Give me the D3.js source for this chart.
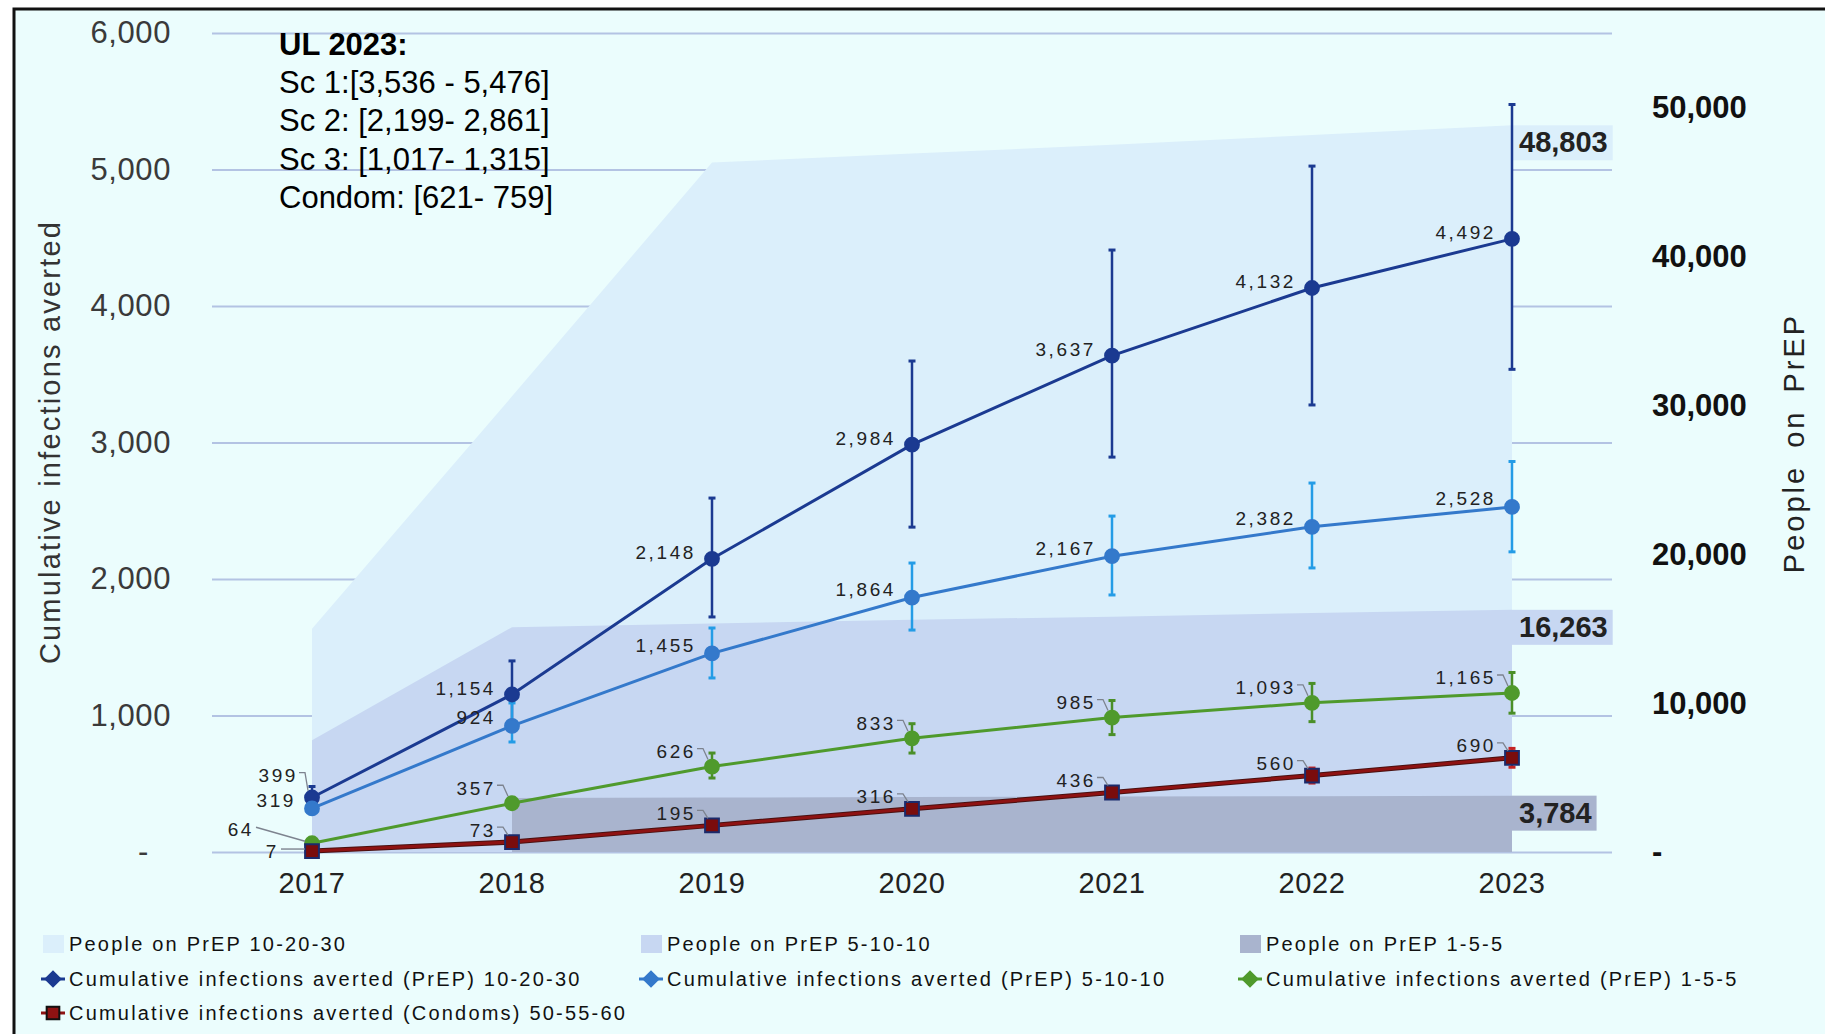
<!DOCTYPE html>
<html>
<head>
<meta charset="utf-8">
<script src="https://cdnjs.cloudflare.com/ajax/libs/d3/7.8.5/d3.min.js"></script>
<style>
    body { margin: 0; background: #ffffff; }
    text { font-family: "Liberation Sans", Arial, sans-serif; }
</style>
</head>
<body>
<div class="chart-area"></div>
<script>

// years on the x axis
const years = ["2017", "2018", "2019", "2020", "2021", "2022", "2023"];

// people on PrEP (right axis), one area per scenario
const prep102030 = [15000, 30600, 46300, 46900, 47500, 48150, 48803];
const prep51010 = [7500, 15100, 15350, 15600, 15800, 16050, 16263];
const prep155 = [null, 3630, 3660, 3690, 3720, 3750, 3784];

// cumulative infections averted (left axis) + uncertainty bounds
const sc1 = [399, 1154, 2148, 2984, 3637, 4132, 4492];
const sc1Low = [320, 910, 1722, 2380, 2893, 3275, 3536];
const sc1High = [480, 1400, 2593, 3597, 4410, 5025, 5476];

const sc2 = [319, 924, 1455, 1864, 2167, 2382, 2528];
const sc2Low = [290, 806, 1275, 1626, 1883, 2081, 2199];
const sc2High = [350, 1092, 1641, 2117, 2461, 2703, 2861];

const sc3 = [64, 357, 626, 833, 985, 1093, 1165];
const sc3Low = [56, 320, 542, 725, 860, 955, 1017];
const sc3High = [72, 395, 725, 940, 1110, 1235, 1315];

const condoms = [7, 73, 195, 316, 436, 560, 690];
const condomsLow = [6, 66, 175, 285, 395, 505, 621];
const condomsHigh = [8, 80, 215, 347, 478, 615, 759];

// axis ticks
const leftTicks = [0, 1000, 2000, 3000, 4000, 5000, 6000];
const rightTicks = [0, 10000, 20000, 30000, 40000, 50000];

// text box in the top left corner
const noteLines = ["Sc 1:[3,536 - 5,476]", "Sc 2: [2,199- 2,861]", "Sc 3: [1,017- 1,315]", "Condom: [621- 759]"];


class AvertedChart {

    constructor(parentElement) {
        this.parentElement = parentElement;
        this.initVis();
    }

    initVis() {
        let vis = this;

        vis.totalWidth = 1825;
        vis.totalHeight = 1034;
        vis.margin = {top: 33, right: 213, bottom: 182, left: 212};
        vis.width = vis.totalWidth - vis.margin.left - vis.margin.right;
        vis.height = vis.totalHeight - vis.margin.top - vis.margin.bottom;

        vis.root = d3.select("." + vis.parentElement).append("svg")
            .attr("width", vis.totalWidth)
            .attr("height", vis.totalHeight);

        // cyan frame, the picture is cropped on the right and bottom
        vis.root.append("rect")
            .attr("x", 14).attr("y", 9)
            .attr("width", vis.totalWidth + 20).attr("height", vis.totalHeight + 20)
            .attr("fill", "#ebfdfd")
            .attr("stroke", "#111")
            .attr("stroke-width", 3);

        vis.svg = vis.root.append("g")
            .attr("transform", `translate(${vis.margin.left}, ${vis.margin.top})`);

        // scales
        vis.x = d3.scaleBand().domain(years).range([0, vis.width]);
        vis.y = d3.scaleLinear().domain([0, 6000]).range([vis.height, 0]);
        vis.y2 = d3.scaleLinear().domain([0, 55000]).range([vis.height, 0]);

        vis.series = [
            {name: "Cumulative infections averted (PrEP) 10-20-30", values: sc1, low: sc1Low, high: sc1High,
                color: "#1b3a91", barColor: "#1b3a91", marker: "diamond", labelDy: -6},
            {name: "Cumulative infections averted (PrEP) 5-10-10", values: sc2, low: sc2Low, high: sc2High,
                color: "#3479cb", barColor: "#249ce6", marker: "diamond", labelDy: -8},
            {name: "Cumulative infections averted (PrEP) 1-5-5", values: sc3, low: sc3Low, high: sc3High,
                color: "#4f9a2c", barColor: "#4a8f28", marker: "diamond", labelDy: -15},
            {name: "Cumulative infections averted (Condoms) 50-55-60", values: condoms, low: condomsLow, high: condomsHigh,
                color: "#8e1212", barColor: "#c42323", marker: "square", labelDy: -12}
        ];

        vis.areas = [
            {name: "People on PrEP 10-20-30", values: prep102030, color: "#dbeffb"},
            {name: "People on PrEP 5-10-10", values: prep51010, color: "#c7d7f2"},
            {name: "People on PrEP 1-5-5", values: prep155, color: "#a9b4ce"}
        ];

        vis.updateVis();
    }

    updateVis() {
        let vis = this;
        let cx = d => vis.x(d) + vis.x.bandwidth() / 2;

        // gridlines first, the areas cover them
        vis.svg.append("g")
            .attr("class", "grid")
            .call(d3.axisLeft(vis.y).tickValues(leftTicks).tickSize(-vis.width).tickFormat(""))
            .call(g => g.select(".domain").remove())
            .selectAll("line")
            .attr("stroke", "#b3c3e3")
            .attr("stroke-width", 2);

        // people on PrEP areas
        vis.areas.forEach(function (a) {
            let pts = years.map((yr, i) => ({year: yr, v: a.values[i]}));
            let area = d3.area()
                .defined(d => d.v !== null)
                .x(d => cx(d.year))
                .y0(vis.height)
                .y1(d => vis.y2(d.v));
            vis.svg.append("path")
                .datum(pts)
                .attr("d", area)
                .attr("fill", a.color);

            // value box at the end of the area
            let last = a.values[a.values.length - 1];
            let lbl = vis.svg.append("g")
                .attr("transform", `translate(${cx(years[years.length - 1])}, ${vis.y2(last)})`);
            let txt = lbl.append("text")
                .attr("x", 7)
                .attr("y", 27)
                .attr("font-size", 29)
                .attr("font-weight", "bold")
                .attr("fill", "#222")
                .text(d3.format(",")(last));
            let bb = txt.node().getBBox();
            lbl.insert("rect", "text")
                .attr("x", 0).attr("y", 0)
                .attr("width", bb.width + 12).attr("height", 35)
                .attr("fill", a.color);
        });

        // left axis
        let leftAxis = vis.svg.append("g")
            .call(d3.axisLeft(vis.y).tickValues(leftTicks).tickSize(0).tickPadding(41)
                .tickFormat(d => d === 0 ? "-" : d3.format(",")(d)));
        leftAxis.select(".domain").remove();
        leftAxis.selectAll("text")
            .attr("font-size", 31)
            .attr("letter-spacing", 0.6)
            .attr("fill", "#3a3a3a")
            .attr("dx", d => d === 0 ? -22 : 0);

        // right axis
        let rightAxis = vis.svg.append("g")
            .attr("transform", `translate(${vis.width}, 0)`)
            .call(d3.axisRight(vis.y2).tickValues(rightTicks).tickSize(0).tickPadding(40)
                .tickFormat(d => d === 0 ? "-" : d3.format(",")(d)));
        rightAxis.select(".domain").remove();
        rightAxis.selectAll("text")
            .attr("font-size", 31)
            .attr("font-weight", "bold")
            .attr("fill", "#111");

        // bottom axis
        let bottomAxis = vis.svg.append("g")
            .attr("transform", `translate(0, ${vis.height})`)
            .call(d3.axisBottom(vis.x).tickSize(0).tickPadding(20));
        bottomAxis.select(".domain").remove();
        bottomAxis.selectAll("text")
            .attr("font-size", 29)
            .attr("letter-spacing", 0.6)
            .attr("fill", "#222");

        // axis titles
        vis.svg.append("text")
            .attr("transform", `translate(${52 - vis.margin.left}, ${442 - vis.margin.top}) rotate(-90)`)
            .attr("text-anchor", "middle")
            .attr("dominant-baseline", "middle")
            .attr("font-size", 29)
            .attr("letter-spacing", 2.2)
            .attr("fill", "#333")
            .text("Cumulative infections averted");

        vis.svg.append("text")
            .attr("transform", `translate(${1796 - vis.margin.left}, ${443 - vis.margin.top}) rotate(-90)`)
            .attr("text-anchor", "middle")
            .attr("dominant-baseline", "middle")
            .attr("font-size", 29)
            .attr("letter-spacing", 3)
            .attr("word-spacing", 6)
            .attr("fill", "#222")
            .text("People on PrEP");

        // error bars
        vis.series.forEach(function (s) {
            let g = vis.svg.append("g");
            years.forEach(function (yr, i) {
                let px = cx(yr);
                g.append("line")
                    .attr("x1", px).attr("x2", px)
                    .attr("y1", vis.y(s.low[i])).attr("y2", vis.y(s.high[i]))
                    .attr("stroke", s.barColor).attr("stroke-width", 2.5);
                [s.low[i], s.high[i]].forEach(function (v) {
                    g.append("line")
                        .attr("x1", px - 3.5).attr("x2", px + 3.5)
                        .attr("y1", vis.y(v)).attr("y2", vis.y(v))
                        .attr("stroke", s.barColor).attr("stroke-width", 3);
                });
            });
        });

        // lines + markers
        let line = d3.line()
            .x(d => cx(d.year))
            .y(d => vis.y(d.v));

        vis.series.forEach(function (s) {
            let pts = years.map((yr, i) => ({year: yr, v: s.values[i]}));
            if (s.marker === "square") {
                vis.svg.append("path")
                    .datum(pts)
                    .attr("d", line)
                    .attr("fill", "none")
                    .attr("stroke", "#4a1010")
                    .attr("stroke-width", 5);
            }
            vis.svg.append("path")
                .datum(pts)
                .attr("d", line)
                .attr("fill", "none")
                .attr("stroke", s.color)
                .attr("stroke-width", 3);

            // blurred diamonds in the picture read as round dots
            let sym = s.marker === "square" ? d3.symbolSquare : d3.symbolCircle;
            vis.svg.selectAll(null)
                .data(pts)
                .enter()
                .append("path")
                .attr("transform", d => `translate(${cx(d.year)}, ${vis.y(d.v)})`)
                .attr("d", d3.symbol().type(sym).size(s.marker === "square" ? 190 : 150))
                .attr("fill", s.marker === "square" ? "#7a0c0c" : s.color)
                .attr("stroke", s.marker === "square" ? "#1b2a6b" : s.color)
                .attr("stroke-width", 2);
        });

        // data labels, mostly to the upper left of the point
        let nudges = {"0-0": [-14, -22], "2-0": [-58, -14], "3-0": [-33, 0]};
        vis.series.forEach(function (s, si) {
            s.values.forEach(function (v, i) {
                let px = cx(years[i]);
                let py = vis.y(v);
                let off = nudges[si + "-" + i] || [-16, s.labelDy];
                let tx = px + off[0];
                let ty = py + off[1];
                vis.svg.append("text")
                    .attr("x", tx)
                    .attr("y", ty)
                    .attr("text-anchor", "end")
                    .attr("dominant-baseline", "central")
                    .attr("font-size", 19)
                    .attr("letter-spacing", 2.6)
                    .attr("fill", "#222")
                    .text(d3.format(",")(v));
                // small hooked leader line back to the point
                if (off[0] < -20) {
                    vis.svg.append("path")
                        .attr("d", `M${tx + 2},${ty - 2} L${px - 7},${py - 2}`)
                        .attr("fill", "none")
                        .attr("stroke", "#7d838f")
                        .attr("stroke-width", 1.4);
                } else if (Math.abs(off[1]) > 8) {
                    vis.svg.append("path")
                        .attr("d", `M${tx + 1},${ty - 3} H${tx + 7} L${px - 4},${py - 7}`)
                        .attr("fill", "none")
                        .attr("stroke", "#7d838f")
                        .attr("stroke-width", 1.3);
                }
            });
        });

        // note in the upper left
        let note = vis.root.append("g")
            .attr("transform", "translate(279, 0)");
        note.append("text")
            .attr("y", 55)
            .attr("font-size", 31)
            .attr("font-weight", "bold")
            .attr("fill", "#000")
            .text("UL 2023:");
        note.selectAll(null)
            .data(noteLines)
            .enter()
            .append("text")
            .attr("y", (d, i) => 93 + i * 38.3)
            .attr("font-size", 31)
            .attr("fill", "#000")
            .text(d => d);

        vis.drawLegend();
    }

    drawLegend() {
        let vis = this;
        let cols = [43, 641, 1240];
        let rows = [944, 979, 1013];

        let items = vis.areas.map((a, i) => ({type: "area", d: a, col: i, row: 0}))
            .concat(vis.series.slice(0, 3).map((s, i) => ({type: "line", d: s, col: i, row: 1})))
            .concat([{type: "line", d: vis.series[3], col: 0, row: 2}]);

        let leg = vis.root.append("g").attr("class", "legend");
        items.forEach(function (it) {
            let g = leg.append("g")
                .attr("transform", `translate(${cols[it.col]}, ${rows[it.row]})`);
            if (it.type === "area") {
                g.append("rect")
                    .attr("x", 0).attr("y", -9)
                    .attr("width", 21).attr("height", 18)
                    .attr("fill", it.d.color);
            } else {
                g.append("line")
                    .attr("x1", -2).attr("x2", 22)
                    .attr("stroke", it.d.color).attr("stroke-width", 3);
                let sq = it.d.marker === "square";
                g.append("path")
                    .attr("transform", sq ? "translate(10, 0)" : "translate(10, 0) rotate(45)")
                    .attr("d", d3.symbol().type(d3.symbolSquare).size(sq ? 160 : 110))
                    .attr("fill", sq ? "#8e1212" : it.d.color)
                    .attr("stroke", sq ? "#111" : it.d.color)
                    .attr("stroke-width", 2);
            }
            g.append("text")
                .attr("x", 26)
                .attr("dominant-baseline", "central")
                .attr("font-size", 20)
                .attr("letter-spacing", 2.2)
                .attr("fill", "#111")
                .text(it.d.name);
        });
    }
}

new AvertedChart("chart-area");

</script>
</body>
</html>
